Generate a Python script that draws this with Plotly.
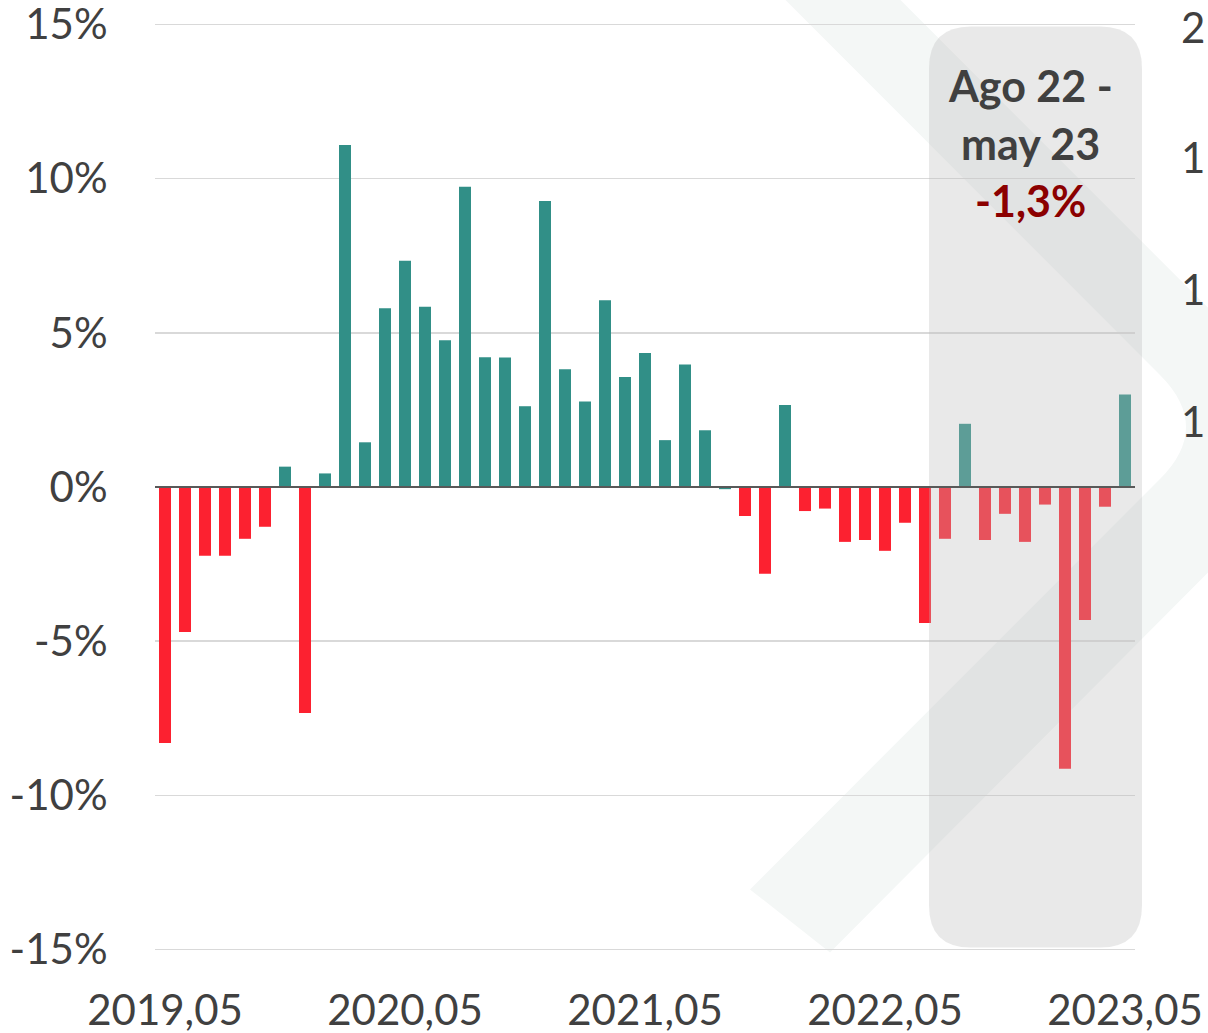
import plotly.graph_objects as go

# ---------------- data ----------------
months = [f"{2019 + (4 + i) // 12},{(4 + i) % 12 + 1:02d}" for i in range(49)]
values = [
    -8.3, -4.7, -2.23, -2.23, -1.68, -1.29, 0.66, -7.33, 0.44, 11.09,
    1.45, 5.80, 7.34, 5.85, 4.76, 9.74, 4.21, 4.20, 2.62, 9.28,
    3.82, 2.77, 6.06, 3.57, 4.35, 1.52, 3.97, 1.84, -0.07, -0.94,
    -2.81, 2.66, -0.78, -0.70, -1.78, -1.72, -2.07, -1.16, -4.41, -1.68,
    2.05, -1.72, -0.87, -1.78, -0.57, -9.14, -4.31, -0.64, 3.00,
]
x_tick_labels = ["2019,05", "2020,05", "2021,05", "2022,05", "2023,05"]
y_tick_values = [-15, -10, -5, 0, 5, 10, 15]
y_tick_labels = ["-15%", "-10%", "-5%", "0%", "5%", "10%", "15%"]
period_title = ["Ago 22 -", "may 23"]
period_change = "-1,3%"
right_axis_labels = ["2", "1", "1", "1"]

TEAL = "#318F87"
RED = "#FC2130"
colors = [TEAL if v >= -0.1 else RED for v in values]

# ---------------- geometry helpers ----------------
W, H = 1208, 1033
L, R = 155, 1135
YPAD = 0.05
T, B = 25 - 30.8 * YPAD, 949 + 30.8 * YPAD   # plot area incl. a hair of padding


def px(xp):
    return (xp - L) / (R - L)


def py(yp):
    return (B - yp) / (B - T)


def path(cmds):
    out = []
    for c in cmds:
        op, pts = c[0], c[1:]
        coords = " ".join(f"{px(pts[i]):.5f},{py(pts[i + 1]):.5f}" for i in range(0, len(pts), 2))
        out.append(f"{op} {coords}")
    return " ".join(out) + " Z"


fig = go.Figure()
fig.add_trace(go.Bar(x=months, y=values, marker=dict(color=colors, line=dict(width=0)),
                     hoverinfo="skip"))

# watermark chevron (very light)
wm = path([
    ("M", 765, -20), ("L", 880, -20), ("L", 1340, 440), ("L", 830, 952),
    ("L", 750, 889), ("L", 1160, 479), ("Q", 1212, 427, 1160, 375),
])
# rounded grey highlight box
x0, x1, y0, y1, r = 929, 1142, 27, 947, 42
box = path([
    ("M", x0 + r, y0), ("L", x1 - r, y0), ("Q", x1, y0, x1, y0 + r),
    ("L", x1, y1 - r), ("Q", x1, y1, x1 - r, y1), ("L", x0 + r, y1),
    ("Q", x0, y1, x0, y1 - r), ("L", x0, y0 + r), ("Q", x0, y0, x0 + r, y0),
])

fig.update_layout(shapes=[
    dict(type="path", path=wm, xref="paper", yref="paper", layer="below",
         fillcolor="#F4F7F6", line=dict(width=0)),
    dict(type="path", path=box, xref="paper", yref="paper", layer="above",
         fillcolor="rgba(186,186,186,0.32)", line=dict(width=0)),
    dict(type="line", xref="paper", yref="y", x0=0, x1=1, y0=0, y1=0, layer="above",
         line=dict(color="#595959", width=2)),
])

font = "Lato, 'Open Sans', sans-serif"
cx = px(1030)
ann = [
    dict(text=f"<b>{period_title[0]}</b>", y=py(86)),
    dict(text=f"<b>{period_title[1]}</b>", y=py(144)),
    dict(text=f"<b>{period_change}</b>", y=py(201), color="#8B0000"),
]
annotations = []
for a in ann:
    annotations.append(dict(
        text=a["text"], x=cx, y=a["y"], xref="paper", yref="paper",
        xanchor="center", yanchor="middle", showarrow=False,
        font=dict(family=font, size=43, color=a.get("color", "#404040")),
    ))
for lab, yy in zip(right_axis_labels, [27, 157, 289, 421]):
    annotations.append(dict(
        text=lab, x=px(1207), y=py(yy), xref="paper", yref="paper",
        xanchor="right", yanchor="middle", showarrow=False,
        font=dict(family=font, size=42, color="#404040"),
    ))
fig.update_layout(annotations=annotations)

fig.update_layout(
    width=W, height=H,
    margin=dict(l=L, r=W - R, t=T, b=H - B, pad=0, autoexpand=False),
    paper_bgcolor="white", plot_bgcolor="rgba(0,0,0,0)",
    showlegend=False, bargap=0.4,
    font=dict(family=font, color="#404040"),
    xaxis=dict(type="category", range=[-0.5, 48.5], tickmode="array",
               tickvals=[months[0], months[12], months[24], months[36], months[48]],
               ticktext=x_tick_labels, showgrid=False, zeroline=False, showline=False,
               ticks="outside", ticklen=23, tickcolor="rgba(0,0,0,0)", automargin=False,
               ticklabeloverflow="allow",
               tickfont=dict(family=font, size=42, color="#404040")),
    yaxis=dict(range=[-15 - YPAD, 15 + YPAD], tickmode="array", tickvals=y_tick_values,
               ticktext=y_tick_labels, showgrid=True, gridcolor="#D9D9D9", gridwidth=1.5,
               zeroline=False, showline=False, ticks="outside", ticklen=38,
               tickcolor="rgba(0,0,0,0)", automargin=False, ticklabeloverflow="allow",
               tickfont=dict(family=font, size=42, color="#404040")),
)

fig.write_html(
    "out.html",
    config={"displayModeBar": False, "staticPlot": True},
    post_script="document.body.style.margin='0';document.body.style.overflow='hidden';",
)
